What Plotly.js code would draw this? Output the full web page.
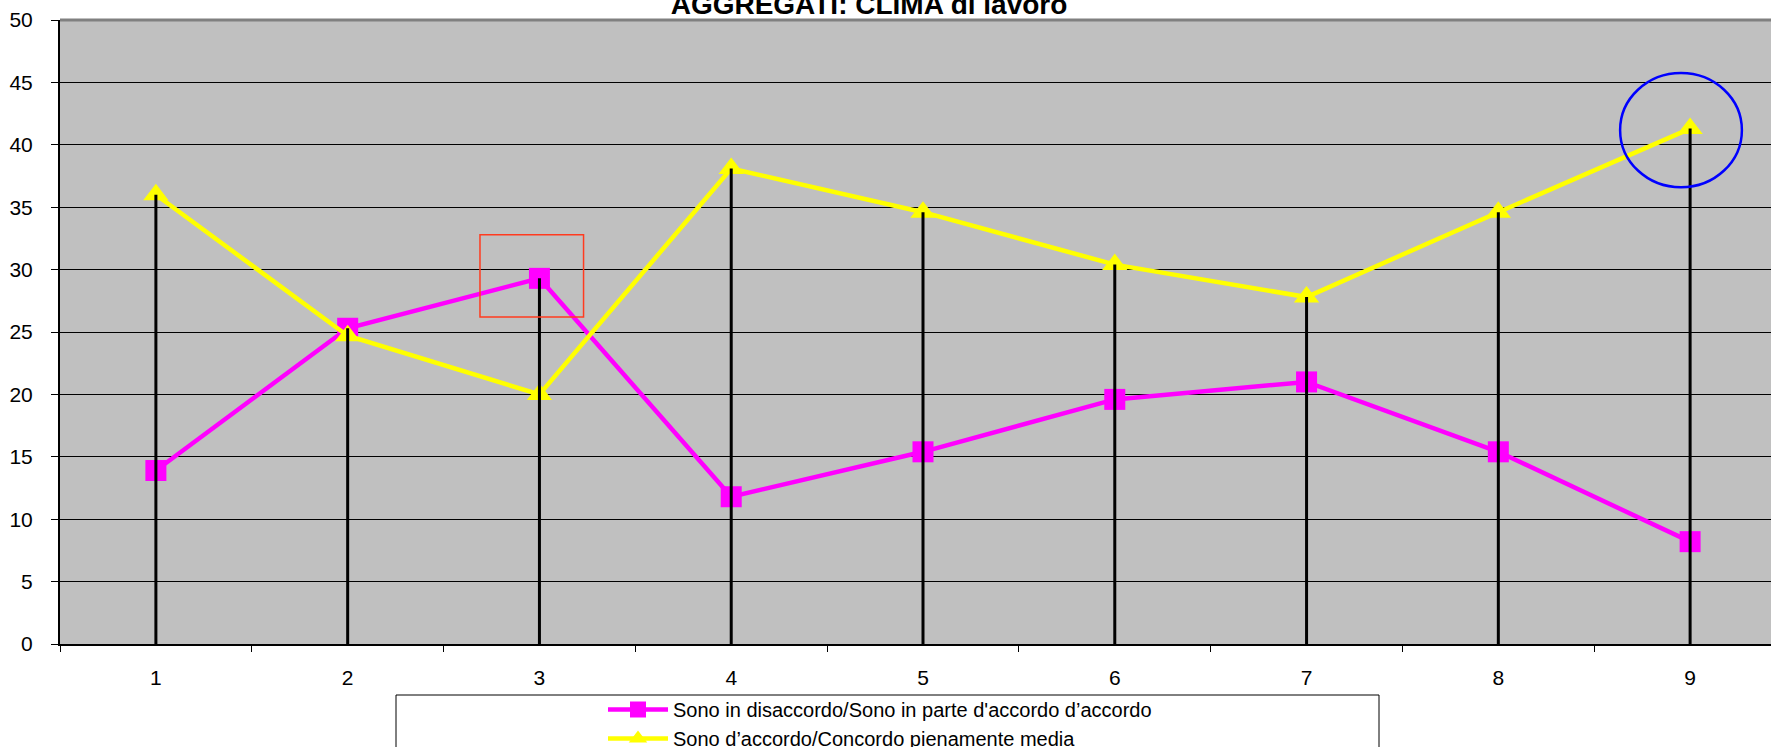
<!DOCTYPE html>
<html><head><meta charset="utf-8">
<script src="https://cdn.plot.ly/plotly-3.0.1.min.js"></script>
<style>html,body{margin:0;padding:0;overflow:hidden;background:#fff;width:1771px;height:747px}#chart{width:1800px;height:800px}</style>
</head><body><div id="chart"></div><script>
const categories = ['1','2','3','4','5','6','7','8','9'];
const disaccordo = [13.9, 25.3, 29.3, 11.8, 15.4, 19.6, 21.0, 15.4, 8.2];
const accordo = [36.0, 24.7, 20.0, 38.1, 34.6, 30.4, 27.8, 34.6, 41.3];
const seriesNames = ["Sono in disaccordo/Sono in parte d'accordo d\u2019accordo", "Sono d\u2019accordo/Concordo pienamente media"];
const yTickVals = [0, 5, 10, 15, 20, 25, 30, 35, 40, 45, 50];
const titleText = "AGGREGATI: CLIMA di lavoro";

const font = "Liberation Sans, Arial, sans-serif";
const H = 800;

// drop lines from 0 to the higher of the two series
const dropX = [], dropY = [];
categories.forEach((c, i) => {
  dropX.push(c, c, null);
  dropY.push(0, Math.max(disaccordo[i], accordo[i]), null);
});

const traces = [
  {x: categories, y: disaccordo, name: seriesNames[0], type: 'scatter', mode: 'lines+markers',
   line: {color: '#ff00ff', width: 4.5}, marker: {symbol: 'square', size: 21, color: '#ff00ff'}},
  {x: categories, y: accordo, name: seriesNames[1], type: 'scatter', mode: 'lines+markers',
   line: {color: '#ffff00', width: 4.5}, marker: {symbol: 'triangle-up', size: 22, color: '#ffff00'}},
  {x: dropX, y: dropY, type: 'scatter', mode: 'lines', showlegend: false, hoverinfo: 'skip',
   line: {color: '#000000', width: 3}}
];

const hl = 2, hc = 8;
const layout = {
  width: 1800, height: H,
  margin: {l: 60, r: 14, t: 20, b: H - 644},
  paper_bgcolor: '#ffffff', plot_bgcolor: '#c0c0c0',
  font: {family: font, size: 21, color: '#000'},
  title: {text: '<b>' + titleText + '</b>', font: {family: font, size: 28, color: '#000'},
          xref: 'container', x: 869/1800, xanchor: 'center', yref: 'container', y: 1 - 4/H, yanchor: 'middle'},
  showlegend: true,
  legend: {x: (603-60)/1726, y: (644-690)/624, xanchor: 'left', yanchor: 'top', bgcolor: 'rgba(0,0,0,0)',
           borderwidth: 0, font: {family: font, size: 20, color: '#000'}, itemwidth: 60, tracegroupgap: 0},
  xaxis: {type: 'category', range: [-0.5, 8.5], tickson: 'boundaries', ticks: 'outside', ticklen: 6,
          tickcolor: '#000', tickwidth: 1, showgrid: false, showline: true, linecolor: '#000', linewidth: 2,
          zeroline: false, ticklabelstandoff: 14, tickfont: {family: font, size: 21, color: '#000'}, fixedrange: true},
  yaxis: {range: [0, 50], tickvals: yTickVals, ticks: 'outside', ticklen: 7, tickcolor: '#000', tickwidth: 1,
          showgrid: true, gridcolor: '#000', gridwidth: 1, showline: true, linecolor: '#000', linewidth: 2,
          zeroline: false, ticklabelstandoff: 14, tickfont: {family: font, size: 21, color: '#000'}, fixedrange: true},
  shapes: [
    {type: 'line', xref: 'paper', yref: 'paper', x0: 0, x1: 1, y0: 1, y1: 1, line: {color: '#808080', width: 3}},
    {type: 'rect', xref: 'x', yref: 'y', x0: hl - 0.31, x1: hl + 0.23, y0: disaccordo[hl] - 3.1, y1: disaccordo[hl] + 3.5,
     line: {color: '#ff3b1f', width: 1.5}},
    {type: 'circle', xref: 'x', yref: 'y', x0: hc - 0.365, x1: hc + 0.27, y0: accordo[hc] - 4.7, y1: accordo[hc] + 4.45,
     line: {color: '#0000ff', width: 2.5}},
    {type: 'rect', xref: 'paper', yref: 'paper', x0: (396-60)/1726, x1: (1379-60)/1726, y0: (644-790)/624, y1: (644-695)/624,
     line: {color: '#000', width: 1}, fillcolor: '#ffffff', layer: 'below'}
  ]
};

Plotly.newPlot('chart', traces, layout, {displayModeBar: false, staticPlot: true});
</script></body></html>
